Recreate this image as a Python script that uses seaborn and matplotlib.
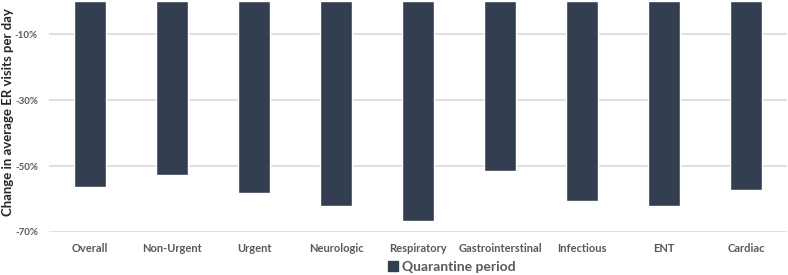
import pandas as pd
import matplotlib.pyplot as plt
import matplotlib.patches as mpatches
import seaborn as sns
from matplotlib.ticker import FuncFormatter

# Data
categories = ['Overall', 'Non-Urgent', 'Urgent', 'Neurologic', 'Respiratory',
              'Gastrointerstinal', 'Infectious', 'ENT', 'Cardiac']
change = [-0.564, -0.527, -0.582, -0.621, -0.667, -0.515, -0.606, -0.620, -0.573]

df = pd.DataFrame({'category': categories, 'change': change})

sns.set_style('white')
plt.rcParams['font.family'] = ['Lato', 'DejaVu Sans']

bar_color = '#333F50'
text_color = '#595959'

fig = plt.figure(figsize=(7.88, 2.75), dpi=100)
ax = fig.add_axes([49 / 788, 1 - 232 / 275, 738 / 788, 231 / 275])

sns.barplot(data=df, x='category', y='change', ax=ax, color=bar_color,
            width=0.39, saturation=1, zorder=3)

ax.set_ylim(-0.70, 0)
ax.set_yticks([-0.7, -0.5, -0.3, -0.1])
ax.yaxis.set_major_formatter(FuncFormatter(lambda v, p: f'{v * 100:.0f}%'))
ax.grid(axis='y', color='#D9D9D9', linewidth=1.2, zorder=0)
for s in ax.spines.values():
    s.set_visible(False)

ax.tick_params(axis='y', length=0, pad=8, labelsize=7, labelcolor=text_color)
ax.tick_params(axis='x', length=0, pad=8, labelsize=8, labelcolor=text_color)
for lbl in ax.get_xticklabels():
    lbl.set_fontweight('bold')
for lbl in ax.get_yticklabels():
    lbl.set_fontweight('bold')

ax.set_xlabel('')
ax.set_ylabel('Change in average ER visits per day', fontsize=9.5,
              fontweight='bold', color='#262626')
ax.yaxis.set_label_coords(-35 / 738, 0.52)

handle = mpatches.Patch(color=bar_color, label='Quarantine period')
fig.legend(handles=[handle], loc='center', bbox_to_anchor=(452 / 788, 1 - 267 / 275),
           frameon=False, prop={'size': 10, 'weight': 'bold'}, labelcolor=text_color,
           handlelength=0.7, handleheight=0.7, handletextpad=0.3)

fig.savefig('out.png', dpi=100)
